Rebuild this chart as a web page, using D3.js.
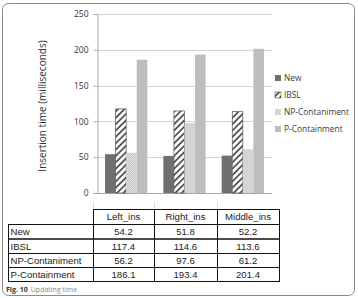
<!DOCTYPE html>
<html>
<head>
<meta charset="utf-8">
<script src="https://cdn.jsdelivr.net/npm/d3@7"></script>
<style>
  body { margin: 0; background: #fff; }
  text { font-family: "Open Sans", "DejaVu Sans", sans-serif; }
</style>
</head>
<body>
<div id="chart"></div>
<script>
// data
var categories = ["Left_ins", "Right_ins", "Middle_ins"];
var seriesNames = ["New", "IBSL", "NP-Contaniment", "P-Containment"];
var legendNames = ["New", "IBSL", "NP-Contaniment", "P-Containment"];
var valNew = [54.2, 51.8, 52.2];
var valIBSL = [117.4, 114.6, 113.6];
var valNP = [56.2, 97.6, 61.2];
var valP = [186.1, 193.4, 201.4];
var yTicks = [0, 50, 100, 150, 200, 250];

var seriesValues = [valNew, valIBSL, valNP, valP];

var width = 358, height = 298;
var svg = d3.select("#chart").append("svg")
  .attr("width", width)
  .attr("height", height);

// patterns
var defs = svg.append("defs");
var hatch = defs.append("pattern")
  .attr("id", "hatch")
  .attr("patternUnits", "userSpaceOnUse")
  .attr("width", 4.5).attr("height", 4.5)
  .attr("patternTransform", "rotate(45)");
hatch.append("rect").attr("width", 4.5).attr("height", 4.5).attr("fill", "#fff");
hatch.append("rect").attr("width", 1.8).attr("height", 4.5).attr("fill", "#555");

var dots = defs.append("pattern")
  .attr("id", "dots")
  .attr("patternUnits", "userSpaceOnUse")
  .attr("width", 2).attr("height", 2);
dots.append("rect").attr("width", 2).attr("height", 2).attr("fill", "#e4e4e4");
dots.append("rect").attr("width", 1).attr("height", 1).attr("fill", "#c4c4c4");
dots.append("rect").attr("x", 1).attr("y", 1).attr("width", 1).attr("height", 1).attr("fill", "#c4c4c4");

var fills = ["#6f6f6f", "url(#hatch)", "url(#dots)", "#bdbdbd"];
var strokes = ["none", "#555", "none", "none"];

// outer frame
svg.append("rect")
  .attr("x", 2.5).attr("y", 3.5)
  .attr("width", 352).attr("height", 292)
  .attr("rx", 6)
  .attr("fill", "none")
  .attr("stroke", "#8a8a8a");

// plot area
var plot = { left: 97, right: 272, top: 14, bottom: 193 };

var x = d3.scaleBand()
  .domain(categories)
  .range([plot.left, plot.right])
  .paddingInner(0.275)
  .paddingOuter(0.1375);

var xs = d3.scaleBand()
  .domain(seriesNames)
  .range([0, x.bandwidth()]);

var y = d3.scaleLinear()
  .domain([0, 250])
  .range([plot.bottom, plot.top]);

// gridlines
svg.append("g")
  .selectAll("line")
  .data(yTicks)
  .enter()
  .append("line")
  .attr("x1", plot.left).attr("x2", plot.right)
  .attr("y1", function(d) { return Math.round(y(d)) + 0.5; })
  .attr("y2", function(d) { return Math.round(y(d)) + 0.5; })
  .attr("stroke", "#d4d4d4");

// y axis
var yAxis = svg.append("g")
  .attr("transform", "translate(" + (plot.left + 0.5) + ",0)")
  .call(d3.axisLeft(y).tickValues(yTicks).tickSize(4).tickPadding(5));
yAxis.select(".domain").attr("stroke", "#a8a8a8");
yAxis.selectAll(".tick line").attr("stroke", "#a8a8a8");
yAxis.selectAll(".tick text")
  .attr("font-size", 8.5)
  .attr("fill", "#333")
  .style("font-family", "'Open Sans', sans-serif");

// x axis baseline
svg.append("line")
  .attr("x1", plot.left).attr("x2", plot.right)
  .attr("y1", plot.bottom + 0.5).attr("y2", plot.bottom + 0.5)
  .attr("stroke", "#a8a8a8");

// bars
var groups = svg.append("g")
  .selectAll("g")
  .data(categories)
  .enter()
  .append("g")
  .attr("transform", function(d) { return "translate(" + x(d) + ",0)"; });

groups.selectAll("rect")
  .data(function(d, i) {
    return seriesNames.map(function(s, j) {
      return { series: s, idx: j, value: seriesValues[j][i] };
    });
  })
  .enter()
  .append("rect")
  .attr("x", function(d) { return xs(d.series); })
  .attr("y", function(d) { return y(d.value); })
  .attr("width", xs.bandwidth())
  .attr("height", function(d) { return y(0) - y(d.value); })
  .attr("fill", function(d) { return fills[d.idx]; })
  .attr("stroke", function(d) { return strokes[d.idx]; })
  .attr("stroke-width", 0.7);

// y axis title
svg.append("text")
  .attr("transform", "translate(46,106) rotate(-90)")
  .attr("text-anchor", "middle")
  .attr("font-size", 10)
  .attr("fill", "#333")
  .text("Insertion time (milliseconds)");

// legend
var legend = svg.append("g")
  .selectAll("g")
  .data(legendNames)
  .enter()
  .append("g")
  .attr("transform", function(d, i) { return "translate(275," + (78 + i * 17) + ")"; });
legend.append("rect")
  .attr("x", 0).attr("y", -3)
  .attr("width", 6).attr("height", 6)
  .attr("fill", function(d, i) { return fills[i]; })
  .attr("stroke", function(d, i) { return strokes[i]; })
  .attr("stroke-width", 0.6);
legend.append("text")
  .attr("x", 9).attr("y", 3)
  .attr("font-size", 8.4)
  .attr("fill", "#3a3a3a")
  .text(function(d) { return d; });

// data table
var tableCols = [8, 93, 154, 217, 279];
var rowTops = [209, 224, 238.5, 253, 267, 281];
var tableFont = 9.6;

// faint column lines above table
svg.append("g")
  .selectAll("line")
  .data(tableCols.slice(1, 4))
  .enter()
  .append("line")
  .attr("x1", function(d) { return d + 0.5; })
  .attr("x2", function(d) { return d + 0.5; })
  .attr("y1", 202).attr("y2", 209)
  .attr("stroke", "#ddd");

var table = svg.append("g");
// header cells
categories.forEach(function(c, i) {
  table.append("rect")
    .attr("x", tableCols[i + 1] + 0.5).attr("y", rowTops[0] + 0.5)
    .attr("width", tableCols[i + 2] - tableCols[i + 1])
    .attr("height", rowTops[1] - rowTops[0])
    .attr("fill", "none").attr("stroke", "#111");
  table.append("text")
    .attr("x", (tableCols[i + 1] + tableCols[i + 2]) / 2)
    .attr("y", rowTops[0] + 11)
    .attr("text-anchor", "middle")
    .attr("font-size", tableFont)
    .attr("fill", "#222")
    .style("font-family", "'Liberation Sans', sans-serif")
    .text(c);
});
// body rows
seriesNames.forEach(function(s, r) {
  var top = rowTops[r + 1], bot = rowTops[r + 2];
  table.append("rect")
    .attr("x", tableCols[0] + 0.5).attr("y", top + 0.5)
    .attr("width", tableCols[4] - tableCols[0])
    .attr("height", bot - top)
    .attr("fill", "none").attr("stroke", "#111");
  table.append("text")
    .attr("x", tableCols[0] + 2.5)
    .attr("y", top + 11)
    .attr("font-size", tableFont)
    .attr("fill", "#222")
    .style("font-family", "'Liberation Sans', sans-serif")
    .text(s);
  categories.forEach(function(c, i) {
    table.append("line")
      .attr("x1", tableCols[i + 1] + 0.5).attr("x2", tableCols[i + 1] + 0.5)
      .attr("y1", top).attr("y2", bot)
      .attr("stroke", "#111");
    table.append("text")
      .attr("x", (tableCols[i + 1] + tableCols[i + 2]) / 2)
      .attr("y", top + 11)
      .attr("text-anchor", "middle")
      .attr("font-size", tableFont)
      .attr("fill", "#222")
      .style("font-family", "'Liberation Sans', sans-serif")
      .text(seriesValues[r][i].toFixed(1));
  });
});

// caption
var cap = svg.append("text")
  .attr("x", 6).attr("y", 292)
  .attr("font-size", 7);
cap.append("tspan").attr("font-weight", "bold").attr("fill", "#333").text("Fig. 10");
cap.append("tspan").attr("fill", "#888").attr("dx", 3).text("Updating time");
</script>
</body>
</html>
